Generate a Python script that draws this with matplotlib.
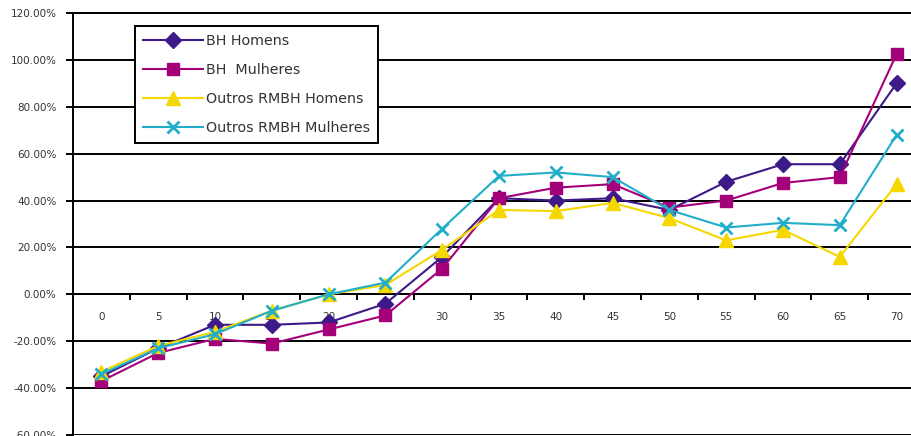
import matplotlib
matplotlib.use('Agg')
import matplotlib.pyplot as plt
from matplotlib.ticker import FixedLocator, FuncFormatter

# Idades (grupos quinquenais) e variação percentual por grupo
idades = ['0', '5', '10', '15', '20', '25', '30', '35', '40', '45', '50', '55', '60', '65', '70']
bh_homens = [-35, -23, -13, -13, -12, -4, 16, 41, 40, 41, 36, 48, 55.5, 55.5, 90]
bh_mulheres = [-37, -25, -19, -21, -15, -9, 11, 41, 45.5, 47, 37, 40, 47.5, 50, 102.5]
outros_homens = [-33, -22, -16, -7, 0, 4, 19, 36, 35.5, 39, 32.5, 23, 27.5, 16, 47]
outros_mulheres = [-34, -23, -17, -7, 0, 5, 28, 50.5, 52, 50, 36, 28.5, 30.5, 29.5, 68]

series = [
    ('BH Homens', bh_homens, '#3d1a87', 'D', 8),
    ('BH  Mulheres', bh_mulheres, '#a3007a', 's', 9),
    ('Outros RMBH Homens', outros_homens, '#f5d800', '^', 10),
    ('Outros RMBH Mulheres', outros_mulheres, '#22aec8', 'x', 9),
]

fig = plt.figure(figsize=(9.12, 4.36), dpi=100)
ax = fig.add_axes([73 / 912, 1 - 435 / 436, (925 - 73) / 912, (435 - 13) / 436])

x = list(range(len(idades)))
for nome, vals, cor, mk, ms in series:
    ax.plot(x, vals, color=cor, marker=mk, markersize=ms, linewidth=1.5,
            markeredgewidth=2 if mk == 'x' else 1, label=nome, zorder=3)

ax.set_xlim(-0.5, len(idades) - 0.5)
ax.set_ylim(-60, 120)
ax.set_yticks(range(-60, 121, 20))
ax.yaxis.set_major_formatter(FuncFormatter(lambda v, p: f'{v:.2f}%'))
ax.grid(axis='y', color='black', linewidth=1.4)
ax.set_axisbelow(True)

# eixo das categorias cruza em 0
ax.spines['bottom'].set_position(('data', 0))
ax.spines['right'].set_visible(False)
for s in ['left', 'top', 'bottom']:
    ax.spines[s].set_linewidth(1.4)
ax.set_xticks(x)
ax.set_xticklabels(idades)
ax.xaxis.set_minor_locator(FixedLocator([i + 0.5 for i in x]))
ax.tick_params(axis='x', which='major', length=0, pad=13, labelsize=7.5, labelcolor='#333333')
ax.tick_params(axis='x', which='minor', length=4, width=1.4, direction='out')
ax.tick_params(axis='y', length=5, width=1.4, labelsize=7.5, labelcolor='#333333', pad=7)

leg = ax.legend(loc='upper left', bbox_to_anchor=(0.0728, 0.969), borderaxespad=0,
                fontsize=10.3, frameon=True, fancybox=False, edgecolor='black',
                framealpha=1, handlelength=4.2, handletextpad=0.2, borderpad=0.55,
                labelspacing=1.05)
leg.get_frame().set_linewidth(1.4)
for t in leg.get_texts():
    t.set_color('#333333')

plt.savefig('out.png', dpi=100)
